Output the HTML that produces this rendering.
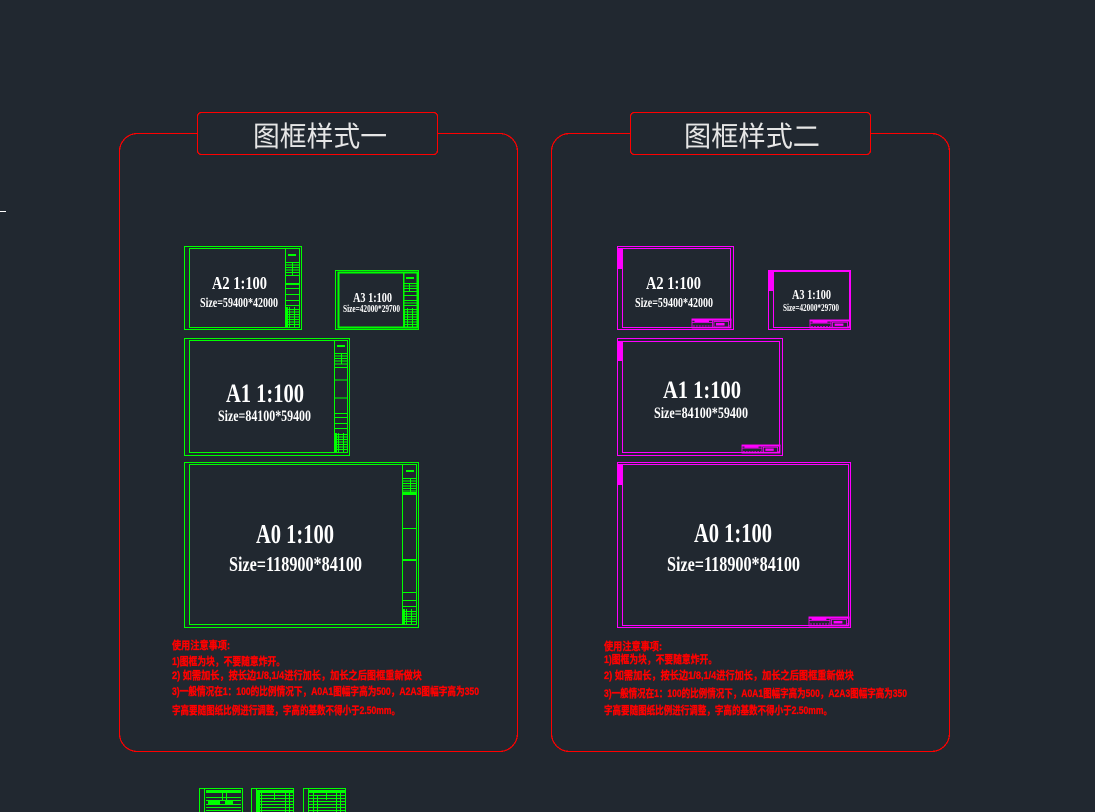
<!DOCTYPE html>
<html><head><meta charset="utf-8"><style>
html,body{margin:0;padding:0;background:#212830;width:1095px;height:812px;overflow:hidden}
svg{display:block}
.cad{font-family:"Liberation Serif","DejaVu Serif",serif;fill:#ffffff;font-weight:bold}
.note{font-family:"Liberation Sans","Noto Sans CJK SC",sans-serif;font-weight:bold;fill:#ff0000;stroke:#ff0000;stroke-width:0.35;font-size:11px}
.ttl{font-family:"Liberation Sans","Noto Sans CJK SC",sans-serif;fill:#e6e6e6;font-size:28px}
.crisp{shape-rendering:crispEdges}
</style></head><body>
<svg width="1095" height="812" viewBox="0 0 1095 812" xmlns="http://www.w3.org/2000/svg">
<rect width="1095" height="812" fill="#212830"/>
<line x1="0" y1="211.5" x2="6" y2="211.5" stroke="#ffffff" stroke-width="1"/>

<defs>
<g id="tb" fill="none" stroke="#ff00ff" stroke-width="0.8">
  <rect x="0" y="0" width="40" height="9"/>
  <rect x="0" y="0" width="40" height="1.3" fill="#ff00ff"/>
  <line x1="21" y1="0" x2="21" y2="9"/>
  <line x1="0" y1="3.5" x2="21" y2="3.5"/>
  <rect x="3" y="1.5" width="14" height="1.2" fill="#ff00ff"/>
  <rect x="22.5" y="2.5" width="15" height="5.5"/>
  <rect x="25" y="4.3" width="8" height="1.8" fill="#ff00ff"/>
  <line x1="1" y1="7" x2="20" y2="7" stroke-dasharray="2 1"/>
  <line x1="38" y1="7" x2="40" y2="7"/>
</g>
</defs>

<g class="crisp">
<!-- LEFT PANEL -->
<rect x="119.5" y="133.5" width="398" height="618" rx="18" fill="none" stroke="#ff0000" stroke-width="1.2"/>
<rect x="197.5" y="112.5" width="240" height="42" rx="4" fill="#212830" stroke="#ff0000" stroke-width="1.2"/>

<!-- RIGHT PANEL -->
<rect x="551.5" y="133.5" width="398" height="618" rx="18" fill="none" stroke="#ff0000" stroke-width="1.2"/>
<rect x="630.5" y="112.5" width="240" height="42" rx="4" fill="#212830" stroke="#ff0000" stroke-width="1.2"/>
</g>
<text class="ttl" x="253" y="146" textLength="134" lengthAdjust="spacingAndGlyphs">图框样式一</text>
<text class="ttl" x="684" y="146" textLength="136" lengthAdjust="spacingAndGlyphs">图框样式二</text>

<!-- GREEN FRAMES -->
<g fill="none" stroke="#00ff00" stroke-width="1" class="crisp">
  <!-- A2 -->
  <rect x="184.5" y="246.5" width="117" height="83"/>
  <rect x="189.5" y="248.5" width="110" height="79"/>
  <line x1="285.5" y1="248" x2="285.5" y2="328"/>
  <rect x="288" y="254" width="8" height="2" fill="#00ff00" stroke="none"/>
  <path d="M285 262.5H300M285 265H300M285 267.5H300M285 270H300M285 272.5H300M285 275.5H300M292.5 262V275"/>
  <rect x="285" y="283" width="15" height="2" fill="#00ff00" stroke="none"/>
  <path d="M285 288.5H300M285 294.5H300M285 300.5H300M285 305.5H300"/>
  <path d="M285 309.5H300M285 312H300M285 314.5H300M285 317H300M285 319.5H300M285 322H300M285 324.5H300M289.5 307V328M294.5 307V328"/>
  <rect x="285" y="307" width="3" height="21" fill="#00ff00" stroke="none"/>

  <!-- A3 -->
  <rect x="335.5" y="270.5" width="83" height="59"/>
  <rect x="338.5" y="272.5" width="79" height="55" stroke-width="1.8"/>
  <line x1="403.5" y1="272" x2="403.5" y2="328" stroke-width="1.5"/>
  <rect x="406" y="277" width="8" height="2" fill="#00ff00" stroke="none"/>
  <path d="M403 283.5H418M403 286H418M403 288.5H418M403 291.5H418M409.5 283V291"/>
  <path d="M403 295.5H418M403 300.5H418M403 303H418M403 305.5H418"/>
  <path d="M403 309.5H418M403 312H418M403 314.5H418M403 317H418M403 319.5H418M403 322H418M403 324.5H418M407.5 308V328M412.5 308V328"/>
  <rect x="403" y="309" width="2" height="19" fill="#00ff00" stroke="none"/>

  <!-- A1 -->
  <rect x="184.5" y="338.5" width="165" height="117"/>
  <rect x="189.5" y="340.5" width="158" height="112"/>
  <line x1="334.5" y1="340" x2="334.5" y2="453"/>
  <rect x="337" y="345" width="8" height="2" fill="#00ff00" stroke="none"/>
  <path d="M334 353.5H348M334 356H348M334 358.5H348M334 361H348M334 364H348M341.5 353V364"/>
  <path d="M334 367.5H348M334 380H348M334 398H348M334 413.5H348M334 417.5H348M334 423.5H348M334 428.5H348"/>
  <path d="M334 434.5H348M334 437H348M334 439.5H348M334 442H348M334 444.5H348M334 447H348M334 449.5H348M338.5 433V453M343.5 433V453"/>
  <rect x="334" y="433" width="3" height="20" fill="#00ff00" stroke="none"/>

  <!-- A0 -->
  <rect x="184.5" y="462.5" width="234" height="165"/>
  <rect x="189.5" y="464.5" width="227" height="160"/>
  <line x1="402.5" y1="465" x2="402.5" y2="625"/>
  <rect x="406" y="470" width="8" height="2" fill="#00ff00" stroke="none"/>
  <path d="M402 478.5H417M402 481H417M402 483.5H417M402 486H417M402 488.5H417M402 491H417M410.5 478V493"/>
  <rect x="402" y="492" width="15" height="3" fill="#00ff00" stroke="none"/>
  <path d="M402 528.5H417M402 592.5H417M402 600.5H417M402 606.5H417"/>
  <rect x="402" y="559" width="15" height="2" fill="#00ff00" stroke="none"/>
  <path d="M402 611.5H417M402 614H417M402 616.5H417M402 619H417M402 621.5H417M406.5 609V625M411.5 609V625"/>
  <rect x="402" y="609" width="3" height="16" fill="#00ff00" stroke="none"/>
</g>

<!-- MAGENTA FRAMES -->
<g fill="none" stroke="#ff00ff" stroke-width="1.2" class="crisp">
  <rect x="617.5" y="246.5" width="116" height="83"/>
  <rect x="622.5" y="248.5" width="108" height="79"/>
  <rect x="617" y="248" width="5" height="21" fill="#ff00ff" stroke="none"/>

  <rect x="768.5" y="270.5" width="82" height="59"/>
  <rect x="773.5" y="271.5" width="76" height="56"/>
  <rect x="768" y="271" width="5" height="20" fill="#ff00ff" stroke="none"/>

  <rect x="617.5" y="338.5" width="165" height="117"/>
  <rect x="622.5" y="341.5" width="157" height="111"/>
  <rect x="617" y="341" width="5" height="20" fill="#ff00ff" stroke="none"/>

  <rect x="617.5" y="462.5" width="233" height="165"/>
  <rect x="622.5" y="464.5" width="226" height="161"/>
  <rect x="617" y="464" width="5" height="21" fill="#ff00ff" stroke="none"/>
</g>
<use href="#tb" transform="translate(692,319) scale(0.975,1)"/>
<use href="#tb" transform="translate(810,320) scale(1,0.9)"/>
<use href="#tb" transform="translate(742,445) scale(0.95,0.9)"/>
<use href="#tb" transform="translate(809,617) scale(1,1)"/>

<!-- FRAME TEXT LEFT -->
<text class="cad" x="212" y="289" font-size="18" textLength="55" lengthAdjust="spacingAndGlyphs">A2 1:100</text>
<text class="cad" x="200" y="307" font-size="14" textLength="78" lengthAdjust="spacingAndGlyphs">Size=59400*42000</text>
<text class="cad" x="353" y="302" font-size="13.5" textLength="39" lengthAdjust="spacingAndGlyphs">A3 1:100</text>
<text class="cad" x="343" y="312" font-size="10" textLength="57" lengthAdjust="spacingAndGlyphs">Size=42000*29700</text>
<text class="cad" x="226" y="402" font-size="26" textLength="78" lengthAdjust="spacingAndGlyphs">A1 1:100</text>
<text class="cad" x="218" y="421" font-size="16" textLength="93" lengthAdjust="spacingAndGlyphs">Size=84100*59400</text>
<text class="cad" x="256" y="543" font-size="27" textLength="78" lengthAdjust="spacingAndGlyphs">A0 1:100</text>
<text class="cad" x="229" y="571" font-size="21" textLength="133" lengthAdjust="spacingAndGlyphs">Size=118900*84100</text>

<!-- FRAME TEXT RIGHT -->
<text class="cad" x="646" y="289" font-size="18" textLength="55" lengthAdjust="spacingAndGlyphs">A2 1:100</text>
<text class="cad" x="635" y="307" font-size="14" textLength="78" lengthAdjust="spacingAndGlyphs">Size=59400*42000</text>
<text class="cad" x="792" y="299" font-size="13.5" textLength="39" lengthAdjust="spacingAndGlyphs">A3 1:100</text>
<text class="cad" x="783" y="311" font-size="10" textLength="56" lengthAdjust="spacingAndGlyphs">Size=42000*29700</text>
<text class="cad" x="663" y="398" font-size="25" textLength="78" lengthAdjust="spacingAndGlyphs">A1 1:100</text>
<text class="cad" x="654" y="418" font-size="16" textLength="94" lengthAdjust="spacingAndGlyphs">Size=84100*59400</text>
<text class="cad" x="694" y="542" font-size="27" textLength="78" lengthAdjust="spacingAndGlyphs">A0 1:100</text>
<text class="cad" x="667" y="571" font-size="21" textLength="133" lengthAdjust="spacingAndGlyphs">Size=118900*84100</text>

<!-- NOTES LEFT -->
<text class="note" x="172" y="649" textLength="58" lengthAdjust="spacingAndGlyphs">使用注意事项:</text>
<text class="note" x="172" y="665" textLength="113" lengthAdjust="spacingAndGlyphs">1)图框为块，不要随意炸开。</text>
<text class="note" x="172" y="679" textLength="250" lengthAdjust="spacingAndGlyphs">2) 如需加长，按长边1/8,1/4进行加长，加长之后图框重新做块</text>
<text class="note" x="172" y="695" textLength="307" lengthAdjust="spacingAndGlyphs">3)一般情况在1：100的比例情况下，A0A1图幅字高为500，A2A3图幅字高为350</text>
<text class="note" x="172" y="714" textLength="228" lengthAdjust="spacingAndGlyphs">字高要随图纸比例进行调整，字高的基数不得小于2.50mm。</text>

<!-- NOTES RIGHT -->
<text class="note" x="604" y="650" textLength="58" lengthAdjust="spacingAndGlyphs">使用注意事项:</text>
<text class="note" x="604" y="663" textLength="113" lengthAdjust="spacingAndGlyphs">1)图框为块，不要随意炸开。</text>
<text class="note" x="604" y="679" textLength="250" lengthAdjust="spacingAndGlyphs">2) 如需加长，按长边1/8,1/4进行加长，加长之后图框重新做块</text>
<text class="note" x="604" y="697" textLength="303" lengthAdjust="spacingAndGlyphs">3)一般情况在1：100的比例情况下，A0A1图幅字高为500，A2A3图幅字高为350</text>
<text class="note" x="604" y="714" textLength="228" lengthAdjust="spacingAndGlyphs">字高要随图纸比例进行调整，字高的基数不得小于2.50mm。</text>

<!-- BOTTOM THUMBNAILS -->
<g fill="none" stroke="#00ff00" stroke-width="1" class="crisp">
  <rect x="199.5" y="788.5" width="43" height="30"/>
  <line x1="204.5" y1="789" x2="204.5" y2="812"/>
  <rect x="206" y="790" width="35" height="3" fill="#00ff00" stroke="none"/>
  <path d="M206 797.5H241M206 800.5H241M206 804.5H241M206 807.5H241M206 810.5H241M222.5 793V800M226.5 793V800"/>
  <rect x="208" y="801" width="12" height="3" fill="#00ff00" stroke="none"/>
  <rect x="225" y="801" width="8" height="3" fill="#00ff00" stroke="none"/>

  <rect x="251.5" y="788.5" width="42" height="30"/>
  <line x1="256.5" y1="789" x2="256.5" y2="812"/>
  <rect x="257" y="790" width="36" height="3" fill="#00ff00" stroke="none"/>
  <path d="M257 795.5H293M257 798.5H293M257 801.5H293M257 804.5H293M257 807.5H293M257 810.5H293M261.5 793V812M285.5 793V812M289.5 793V812M274.5 793V800"/>
  <rect x="257" y="793" width="3" height="19" fill="#00ff00" stroke="none"/>

  <rect x="303.5" y="788.5" width="42" height="30"/>
  <line x1="308.5" y1="789" x2="308.5" y2="812"/>
  <rect x="309" y="790" width="36" height="3" fill="#00ff00" stroke="none"/>
  <path d="M309 795.5H345M309 798.5H345M309 801.5H345M309 804.5H345M309 807.5H345M309 810.5H345M313.5 793V812M317.5 796V812M336.5 793V812M340.5 793V812M326.5 793V800"/>
</g>
</svg>
</body></html>
